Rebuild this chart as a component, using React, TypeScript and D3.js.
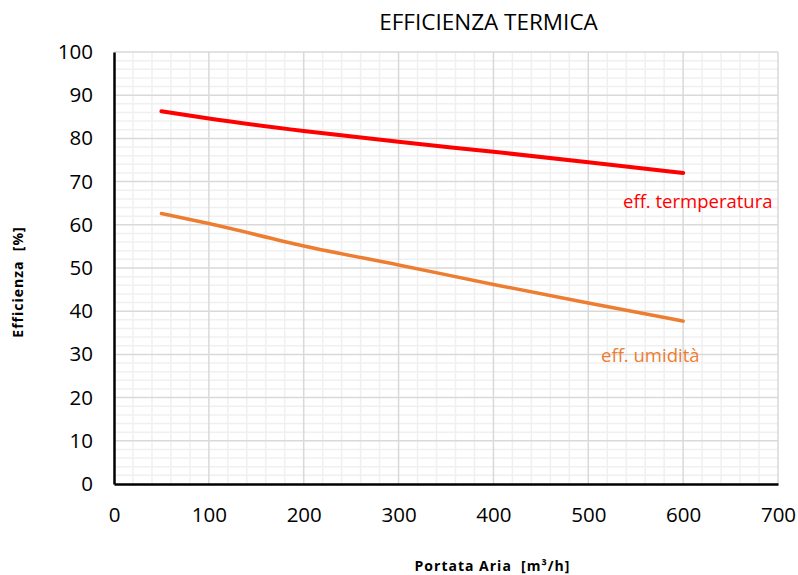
import React, { useRef, useEffect } from "react";
import * as d3 from "d3";

const flow = [50, 100, 200, 300, 400, 500, 600];
const effTemp = [86.3, 84.6, 81.7, 79.2, 76.9, 74.5, 72.0];
const effHum = [62.6, 60.3, 55.1, 50.7, 46.2, 41.9, 37.7];
const xTicks = [0, 100, 200, 300, 400, 500, 600, 700];
const yTicks = [0, 10, 20, 30, 40, 50, 60, 70, 80, 90, 100];

const font = "'Open Sans', 'Liberation Sans', sans-serif";

export default function App() {
  const ref = useRef<SVGSVGElement>(null);
  const width = 798;
  const height = 575;
  const m = { left: 114, right: 20, top: 52, bottom: 91 };

  useEffect(() => {
    const svg = d3.select(ref.current);
    svg.selectAll("*").remove();

    const x = d3.scaleLinear().domain([0, 700]).range([m.left, width - m.right]);
    const y = d3.scaleLinear().domain([0, 100]).range([height - m.bottom, m.top]);

    const grid = svg.append("g");
    // minor grid
    grid
      .selectAll("line.mx")
      .data(d3.range(0, 701, 20).filter((v) => v % 100 !== 0))
      .join("line")
      .attr("x1", (d) => x(d))
      .attr("x2", (d) => x(d))
      .attr("y1", y(0))
      .attr("y2", y(100))
      .attr("stroke", "#f0f0f0")
      .attr("stroke-width", 1.5);
    grid
      .selectAll("line.my")
      .data(d3.range(0, 101, 2).filter((v) => v % 10 !== 0))
      .join("line")
      .attr("x1", x(0))
      .attr("x2", x(700))
      .attr("y1", (d) => y(d))
      .attr("y2", (d) => y(d))
      .attr("stroke", "#f0f0f0")
      .attr("stroke-width", 1.5);
    // major grid
    grid
      .append("g")
      .selectAll("line")
      .data(xTicks.slice(1))
      .join("line")
      .attr("x1", (d) => x(d))
      .attr("x2", (d) => x(d))
      .attr("y1", y(0))
      .attr("y2", y(100))
      .attr("stroke", "#d9d9d9")
      .attr("stroke-width", 1.5);
    grid
      .append("g")
      .selectAll("line")
      .data(yTicks.slice(1))
      .join("line")
      .attr("x1", x(0))
      .attr("x2", x(700))
      .attr("y1", (d) => y(d))
      .attr("y2", (d) => y(d))
      .attr("stroke", "#d9d9d9")
      .attr("stroke-width", 1.5);

    // axes
    const xAxis = svg
      .append("g")
      .attr("transform", `translate(0, ${y(0)})`)
      .call(d3.axisBottom(x).tickValues(xTicks).tickSize(0).tickPadding(23));
    xAxis.select(".domain").attr("stroke", "#000").attr("stroke-width", 2.5);
    xAxis.selectAll("text").attr("font-size", 20.5).attr("font-family", font).attr("fill", "#000");

    const yAxis = svg
      .append("g")
      .attr("transform", `translate(${x(0)}, 0)`)
      .call(d3.axisLeft(y).tickValues(yTicks).tickSize(0).tickPadding(21));
    yAxis.select(".domain").attr("stroke", "#000").attr("stroke-width", 2.5);
    yAxis.selectAll("text").attr("font-size", 20.5).attr("font-family", font).attr("fill", "#000");

    // lines
    const line = (vals: number[]) =>
      d3
        .line<number>()
        .x((_, i) => x(flow[i]))
        .y((d) => y(d))
        .curve(d3.curveMonotoneX)(vals);

    svg
      .append("path")
      .attr("d", line(effHum))
      .attr("fill", "none")
      .attr("stroke", "#ed7d31")
      .attr("stroke-width", 3.5)
      .attr("stroke-linecap", "round");
    svg
      .append("path")
      .attr("d", line(effTemp))
      .attr("fill", "none")
      .attr("stroke", "#ff0000")
      .attr("stroke-width", 4)
      .attr("stroke-linecap", "round");

    // labels
    svg
      .append("text")
      .attr("x", 623)
      .attr("y", 208)
      .attr("font-size", 18.5)
      .attr("font-family", font)
      .attr("fill", "#ff0000")
      .text("eff. termperatura");
    svg
      .append("text")
      .attr("x", 601)
      .attr("y", 362)
      .attr("font-size", 18.5)
      .attr("font-family", font)
      .attr("fill", "#ed7d31")
      .text("eff. umidità");

    // titles
    svg
      .append("text")
      .attr("x", 488.5)
      .attr("y", 30)
      .attr("text-anchor", "middle")
      .attr("font-size", 22.5)
      .attr("font-family", font)
      .attr("fill", "#000")
      .text("EFFICIENZA TERMICA");
    svg
      .append("text")
      .attr("x", 492.5)
      .attr("y", 571)
      .attr("text-anchor", "middle")
      .attr("font-size", 14)
      .attr("font-weight", "bold")
      .attr("letter-spacing", 1)
      .attr("font-family", font)
      .attr("fill", "#000")
      .style("white-space", "pre")
      .text("Portata Aria  [m³/h]");
    svg
      .append("text")
      .attr("transform", `translate(23, 282) rotate(-90)`)
      .attr("text-anchor", "middle")
      .attr("font-size", 14)
      .attr("font-weight", "bold")
      .attr("letter-spacing", 1)
      .attr("font-family", font)
      .attr("fill", "#000")
      .style("white-space", "pre")
      .text("Efficienza  [%]");
  }, []);

  return (
    <svg
      ref={ref}
      width={width}
      height={height}
      style={{ position: "absolute", left: 0, top: 0, background: "#fff" }}
    ></svg>
  );
}
